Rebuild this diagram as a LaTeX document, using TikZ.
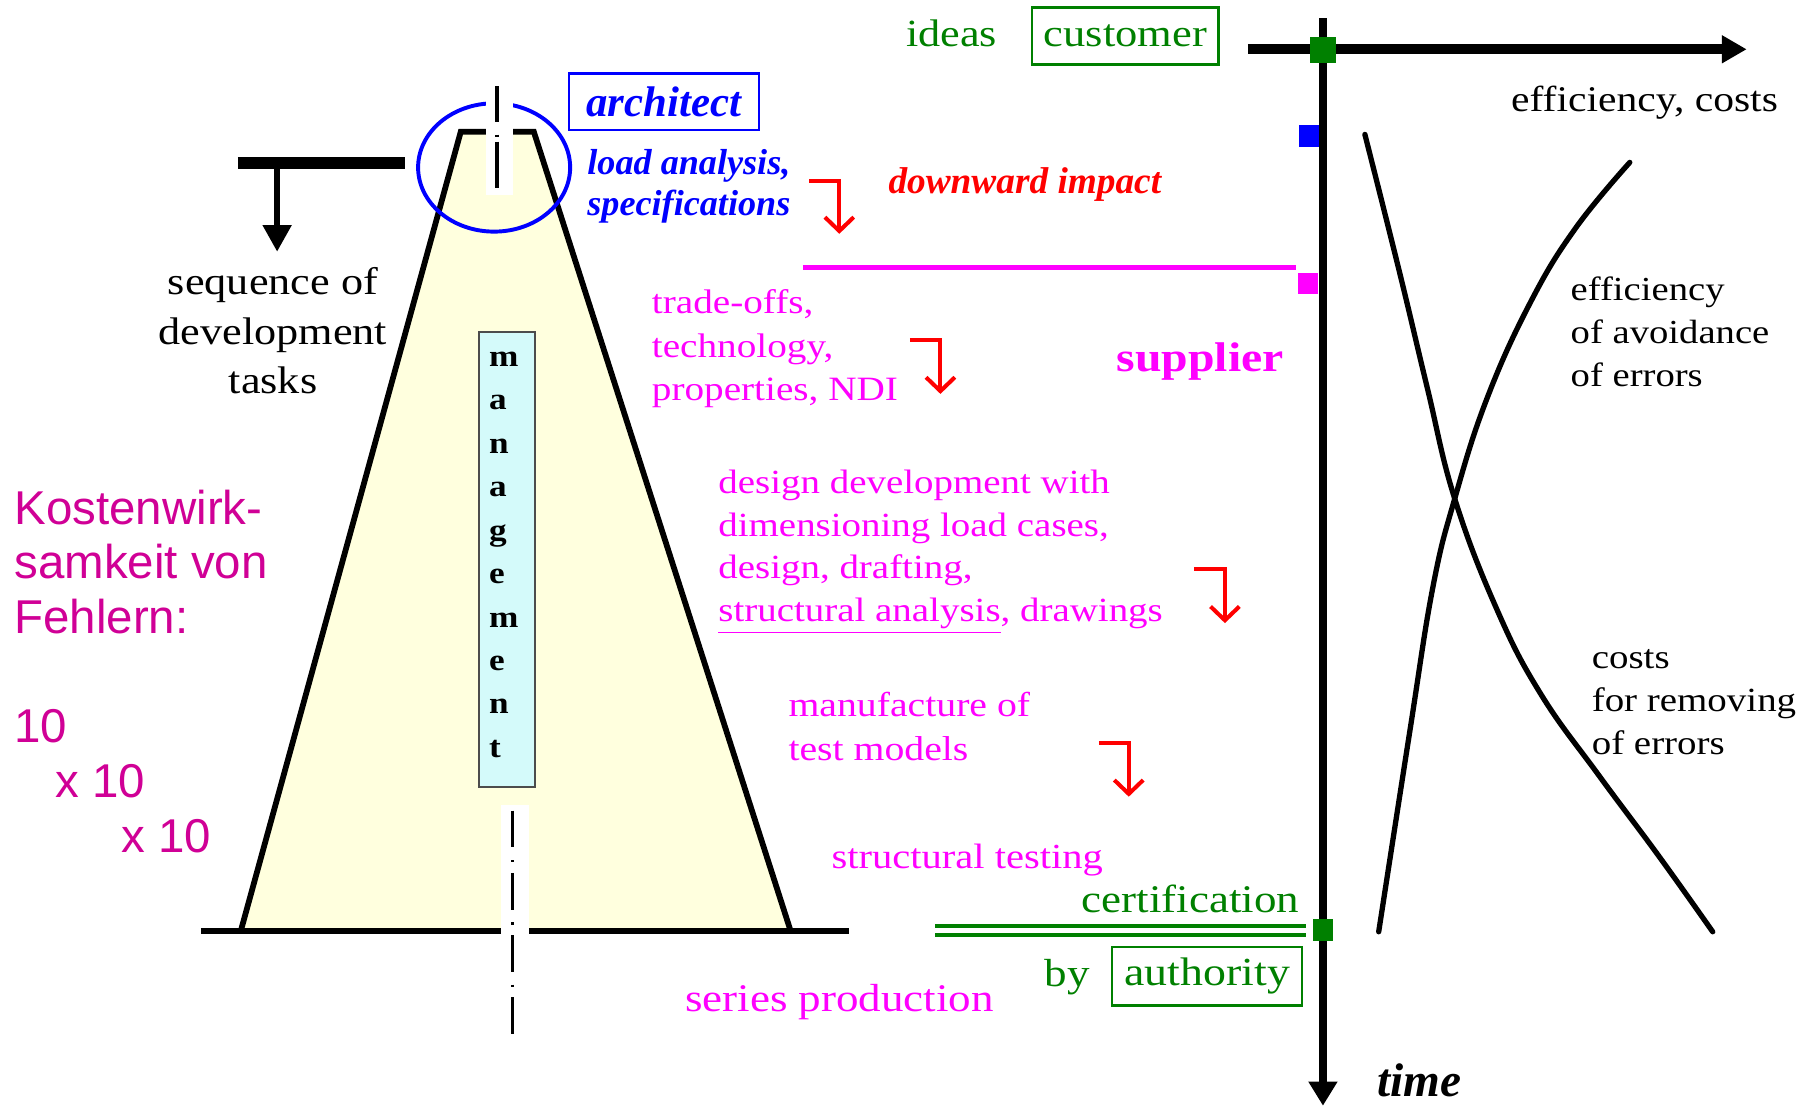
\documentclass[tikz,border=0pt]{standalone}
\usepackage{fontspec}
\setmainfont{Liberation Serif}
\newfontfamily\wserif[FakeStretch=1.15]{Liberation Serif}
\newfontfamily\kfont{Liberation Sans}
\usetikzlibrary{arrows.meta}
\definecolor{mag}{RGB}{255,0,255}
\definecolor{kpink}{RGB}{208,0,150}
\definecolor{grn}{RGB}{0,128,0}
\definecolor{ylw}{RGB}{255,255,222}
\definecolor{cyn}{RGB}{212,250,250}
\definecolor{blu}{RGB}{0,0,255}
\definecolor{rd}{RGB}{255,0,0}
\begin{document}
\begin{tikzpicture}[x=0.5pt,y=-0.5pt]
\tikzset{
 tb/.style={inner sep=0pt, outer sep=0pt},
 lt/.style={tb, anchor=base west, align=left},
 magt/.style={lt, text=mag},
 blkt/.style={lt, text=black},
 grnt/.style={tb, text=grn},
 redarr/.style={draw=rd, line width=1.75pt, line join=miter, -{Straight Barb[length=6pt,width=12.5pt]}},
 cline/.style={draw=black, line width=1.5pt},
 curve/.style={line width=2.3pt, line cap=round, line join=round},
 tagbox/.style={tb, draw, line width=1pt},
}
\path[use as bounding box, fill=white] (0,0) rectangle (1568,961);

% trapezoid
\coordinate (tl) at (400,114.5);
\coordinate (tr) at (463.5,114.5);
\coordinate (br) at (686.5,808.5);
\coordinate (bl) at (209,808.5);
\fill[ylw] (bl) -- (tl) -- (tr) -- (br) -- cycle;
\draw[line width=2.5pt, line join=miter] (bl) -- (tl) -- (tr) -- (br);
\coordinate (baseL) at (174.4,808.5);
\coordinate (baseR) at (737,808.5);
\draw[line width=2.5pt] (baseL) -- (baseR);

% management box
\node[tb, draw=gray!60!black, line width=0.8pt, fill=cyn, minimum width=24.25pt, minimum height=197.5pt, anchor=north west] (mgmtbox) at (416,288) {};
\node[lt, font=\wserif\bfseries\fontsize{13.3}{18.85}\selectfont] (mgmt) at (424.6,657.5) {m\\a\\n\\a\\g\\e\\m\\e\\n\\t};

% blue circle
\draw[blu, line width=1.7pt] (429,145.4) ellipse [x radius=33pt, y radius=27.85pt];

% white strips and centre lines
\fill[white] (422,78) rectangle (445,169);
\fill[white] (434.6,698.5) rectangle (459,811.8);
\coordinate (c1a) at (431.6,75);
\coordinate (c1b) at (431.6,163.5);
\coordinate (c2a) at (445,703.8);
\coordinate (c2b) at (445,898.2);
\draw[cline, dash pattern=on 15.5pt off 5.5pt on 1pt off 2pt on 21pt] (c1a) -- (c1b);
\draw[cline, dash pattern=on 16pt off 5.5pt on 1pt off 4.5pt] (c2a) -- (c2b);

% T and arrow
\coordinate (tbarL) at (206.6,141.5);
\coordinate (tbarR) at (352,141.5);
\coordinate (tstem) at (240.6,141.5);
\coordinate (ttip) at (240.6,218.5);
\draw[line width=5.5pt] (tbarL) -- (tbarR);
\draw[line width=2.5pt, -{Triangle[length=11.5pt,width=12pt]}] (tstem) -- (ttip);

% axes
\coordinate (vtop) at (1148.6,16);
\coordinate (vbot) at (1148.6,960);
\coordinate (hl) at (1083.5,42.8);
\coordinate (hr) at (1516.5,42.8);
\fill[blu] (1128,108.5) rectangle (1146,127.4);
\fill[mag] (1127,236.7) rectangle (1144.6,255.2);
\draw[line width=3.8pt, -{Triangle[length=10.5pt,width=12pt]}] (vtop) -- (vbot);
\draw[line width=4.3pt, -{Triangle[length=10.8pt,width=11.5pt]}] (hl) -- (hr);
\fill[grn] (1137.5,31.8) rectangle (1159.6,54.4);
\fill[grn] (1140,798) rectangle (1157.3,816.7);

% magenta line
\coordinate (mlA) at (697,232);
\coordinate (mlB) at (1125,232);
\draw[mag, line width=2pt] (mlA) -- (mlB);

% green double line
\draw[grn, line width=1.9pt] (811.8,804.1) -- (1133.6,804.1);
\draw[grn, line width=1.9pt] (811.8,811.8) -- (1133.6,811.8);

% curves
\draw[curve] plot[smooth, tension=0.7] coordinates {(1185,116.7) (1215,236) (1239,336) (1263,433) (1300,530) (1338,603) (1388,673) (1440,743) (1487,809)};
\draw[curve] plot[smooth, tension=0.7] coordinates {(1197,809) (1224,635) (1244,510) (1263,433) (1291,346) (1329,262) (1368,198) (1415,141)};

% red arrows
\coordinate (a1s) at (702.4,156.9); \coordinate (a1c) at (728.7,156.9); \coordinate (a1e) at (728.7,203);
\coordinate (a2s) at (790,295.5); \coordinate (a2c) at (816.5,295.5); \coordinate (a2e) at (816.5,342);
\coordinate (a3s) at (1037,494); \coordinate (a3c) at (1063.5,494); \coordinate (a3e) at (1063.5,541);
\coordinate (a4s) at (954,645.4); \coordinate (a4c) at (980,645.4); \coordinate (a4e) at (980,691.7);
\draw[redarr] (a1s) -- (a1c) -- (a1e);
\draw[redarr] (a2s) -- (a2c) -- (a2e);
\draw[redarr] (a3s) -- (a3c) -- (a3e);
\draw[redarr] (a4s) -- (a4c) -- (a4e);

% texts
\node[tb, anchor=base, align=center, font=\wserif\fontsize{16.7}{21.5}\selectfont] (seq) at (237,342) {sequence of\\development\\tasks};
\node[tagbox, draw=blu, text=blu, minimum width=82.6pt, minimum height=24.6pt, font=\bfseries\itshape\fontsize{18.6}{20}\selectfont] (arch) at (576.4,88.3) {architect};
\node[lt, text=blu, font=\bfseries\itshape\fontsize{15.7}{18}\selectfont] (load) at (510,187.5) {load analysis,\\specifications};
\node[lt, text=rd, font=\bfseries\itshape\fontsize{16.2}{18}\selectfont] (down) at (771.4,167.8) {downward impact};
\node[lt, text=grn, font=\wserif\fontsize{16.7}{19}\selectfont] (ideas) at (786.6,40.5) {ideas};
\node[tagbox, draw=grn, text=grn, minimum width=81pt, minimum height=24.75pt, font=\wserif\fontsize{16.8}{19}\selectfont] (cust) at (977,31.2) {customer};
\node[blkt, font=\wserif\fontsize{15.7}{18}\selectfont] (effc) at (1312,97) {efficiency, costs};
\node[blkt, font=\wserif\fontsize{14.6}{18.75}\selectfont] (effav) at (1363.7,336) {efficiency\\of avoidance\\of errors};
\node[blkt, font=\wserif\fontsize{14.7}{18.75}\selectfont] (costrem) at (1382,655) {costs\\for removing\\of errors};
\node[magt, font=\wserif\bfseries\fontsize{18}{20}\selectfont] (supp) at (969.5,322.7) {supplier};
\node[magt, font=\wserif\fontsize{14.8}{19}\selectfont] (trade) at (566,348) {trade-offs,\\technology,\\properties, NDI};
\node[magt, font=\wserif\fontsize{14.7}{18.55}\selectfont] (design) at (623.7,539.6) {design development with\\dimensioning load  cases,\\design, drafting,\\\underline{structural analysis}, drawings};
\node[magt, font=\wserif\fontsize{15}{19}\selectfont] (manu) at (684.6,660) {manufacture of\\test models};
\node[magt, font=\wserif\fontsize{15.3}{18}\selectfont] (stest) at (722,754) {structural testing};
\node[magt, font=\wserif\fontsize{17}{20}\selectfont] (series) at (594.8,878.3) {series production};
\node[grnt, anchor=base east, font=\wserif\fontsize{17}{20}\selectfont] (cert) at (1128,792.4) {certification};
\node[grnt, anchor=base west, font=\wserif\fontsize{17}{20}\selectfont] (by) at (907,856.6) {by};
\node[tagbox, draw=grn, text=grn, minimum width=82.5pt, minimum height=25.5pt, font=\wserif\fontsize{17.3}{20}\selectfont] (auth) at (1048.2,847.5) {authority};
\node[lt, font=\bfseries\itshape\fontsize{20.5}{24}\selectfont] (time) at (1196,952) {time};
\node[lt, text=kpink, font=\kfont\fontsize{20.6}{23.75}\selectfont] (kosten) at (12.6,740) {Kostenwirk-\\samkeit von\\Fehlern:\\[23.75pt]10\\\hspace*{17.8pt}x 10\\\hspace*{46.5pt}x 10};
\end{tikzpicture}
\end{document}
